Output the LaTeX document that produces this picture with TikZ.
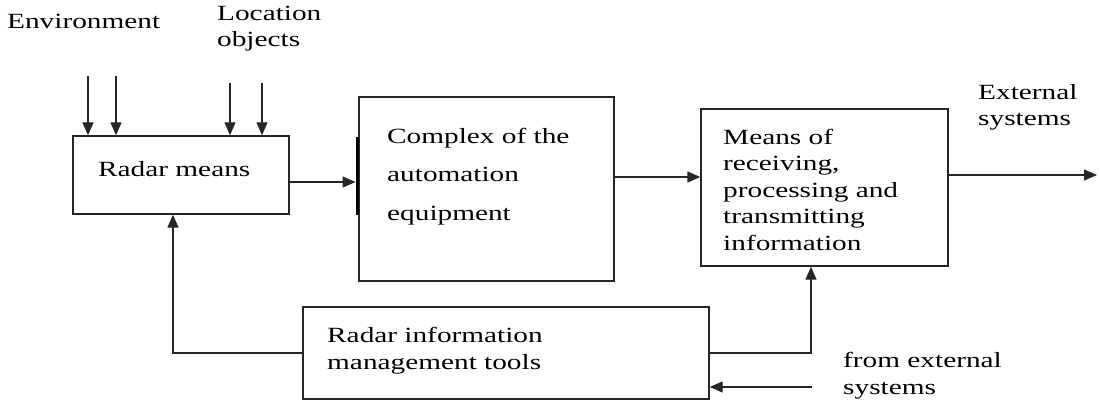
\documentclass[tikz,border=0pt]{standalone}
\usepackage{fontspec}
\setmainfont{Liberation Serif}[FakeStretch=1.35]
\usetikzlibrary{arrows.meta}
\tikzset{
  box/.style={draw=black!85, line width=1.4pt, inner sep=0pt, minimum width=#1},
  box/.default=10pt,
  conn/.style={draw=black!85, line width=1.4pt},
  arr/.style={conn, -{Triangle[length=13pt,width=11pt]}},
  lbl/.style={anchor=base west, inner sep=0pt, align=left, font=\fontsize{21.7}{26.5}\selectfont},
  lblwide/.style={lbl, font=\fontsize{21.7}{38.5}\selectfont},
}
\begin{document}
\begin{tikzpicture}[x=1pt,y=-1pt]
\useasboundingbox (0,0) rectangle (1100,401);
% boxes
\node[box=216pt, minimum height=78pt] (radar) at (181,175) {};
\node[box=255pt, minimum height=184pt] (complex) at (486.5,189) {};
\node[fill=black, inner sep=0pt, minimum width=3.5pt, minimum height=78pt] (bar) at (357.5,176) {};
\node[box=247pt, minimum height=157pt] (means) at (824.5,187.5) {};
\node[box=406pt, minimum height=92pt] (tools) at (506,353) {};
% texts (anchored at the baseline of the last line)
\node[lbl] (tenv) at (7,29) {Environment};
\node[lbl] (tloc) at (217,47) {Location\\objects};
\node[lbl] (tradar) at (98,176) {Radar means};
\node[lblwide] (tcomplex) at (387,220) {Complex of the\\automation\\equipment};
\node[lbl] (tmeans) at (723,250) {Means of\\receiving,\\processing and\\transmitting\\information};
\node[lbl] (text) at (978,126) {External\\systems};
\node[lbl] (ttools) at (327,369) {Radar information\\management tools};
\node[lbl] (tfrom) at (843,394) {from external\\systems};
% free ends
\coordinate (e1) at (88,76);
\coordinate (e2) at (116,76);
\coordinate (l1) at (230,83);
\coordinate (l2) at (262,83);
\coordinate (out) at (1097,175);
\coordinate (ya) at (0,182);
\coordinate (yb) at (0,177);
\coordinate (fbx) at (173,300);
\coordinate (rx) at (811,300);
\coordinate (fe) at (812,387);
% connectors
\draw[arr] (e1) -- (e1 |- radar.north);
\draw[arr] (e2) -- (e2 |- radar.north);
\draw[arr] (l1) -- (l1 |- radar.north);
\draw[arr] (l2) -- (l2 |- radar.north);
\draw[arr] (radar.east |- ya) -- (bar.west |- ya);
\draw[arr] (complex.east |- yb) -- (means.west |- yb);
\draw[arr] (means.east |- out) -- (out);
\draw[arr] (tools.west) -| (fbx |- radar.south);
\draw[arr] (tools.east) -| (rx |- means.south);
\draw[arr] (fe) -- (fe -| tools.east);
\end{tikzpicture}
\end{document}
